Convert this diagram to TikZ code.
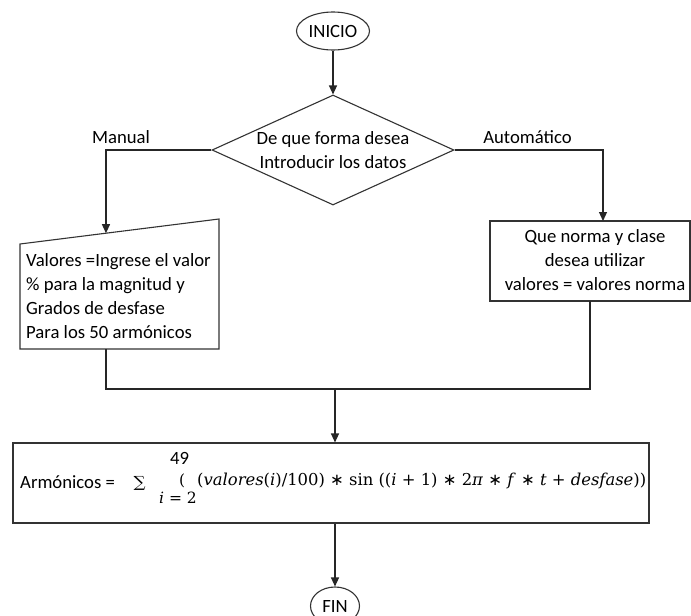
\documentclass[tikz,border=0pt]{standalone}
\usepackage{graphicx}
\usepackage{fontspec}
\setmainfont{Carlito}
\newfontfamily\eqfont{DejaVu Serif}
\newfontfamily\opfont{DejaVu Sans}
\newcommand\eqvar[1]{\textit{#1}}
\newcommand\opstar{{\opfont ∗}}
\usetikzlibrary{shapes.geometric,arrows.meta,calc}

\tikzset{
  every node/.style={font=\fontsize{18.7pt}{24pt}\selectfont, text=black, inner sep=0pt},
  eqtext/.style={font=\eqfont\fontsize{15.5pt}{18pt}\selectfont},
  linestyle/.style={draw=black!85, line width=1.2pt},
  arrowline/.style={linestyle, -{Triangle[length=9pt,width=8pt]}},
  outline/.style={draw=black!80, line width=1.1pt},
  terminal/.style={ellipse, outline},
  decision/.style={diamond, outline, minimum width=242pt, minimum height=110pt},
  procbox/.style={rectangle, outline},
  piece/.style={anchor=base west}
}

\begin{document}
\begin{tikzpicture}[x=1pt, y=-1pt]
\path[use as bounding box, fill=white] (0,0) rectangle (691,616);
\clip (0,0) rectangle (691,616);

% start and decision
\node[terminal, minimum width=73pt, minimum height=38pt] (start) at (333,31) {INICIO};
\node[decision] (ask) at (333,150) {};
\node[align=center] (askText) at (333,150) {De que forma desea\\Introducir los datos};
\node (manualLbl) at (121,137) {Manual};
\node (autoLbl) at (527.5,137) {Automático};

% manual input (slanted top)
\coordinate (lbA) at (20,244);
\coordinate (lbB) at (219,219);
\coordinate (lbC) at (219,349);
\coordinate (lbD) at (20,349);
\draw[outline] (lbA) -- (lbB) -- (lbC) -- (lbD) -- cycle;
\node[align=left, anchor=west] (manualText) at (26,296)
  {Valores =Ingrese el valor\\\% para la magnitud y\\Grados de desfase\\Para los 50 armónicos};

% automatic branch
\node[procbox, minimum width=200pt, minimum height=80pt] (autoBox) at (590,261) {};
\node[align=center] (autoText) at (595,260) {Que norma y clase\\desea utilizar\\valores = valores norma};

% harmonic sum
\node[procbox, minimum width=636pt, minimum height=80pt] (sumBox) at (331,483) {};
\node[piece] (sumLabel) at (20,488) {Armónicos =};
\node (sigma) at (139.5,483.5) {\resizebox*{12pt}{14pt}{\eqfont ∑}};
\node[piece] (upper) at (170,464) {49};
\node[piece, eqtext] (lower) at (159,503) {\eqvar{i} = 2};
\node[piece, eqtext] (openParen) at (179,485) {(};
\node[piece, eqtext] (expr) at (197,485)
  {\resizebox{449pt}{!}{(\eqvar{valores}(\eqvar{i})/100) \opstar{} sin ((\eqvar{i} + 1) \opstar{} 2\eqvar{π} \opstar{} \eqvar{f} \opstar{} \eqvar{t} + \eqvar{desfase}))}};

% end
\node[terminal, minimum width=49pt, minimum height=38pt] (finish) at (335,606) {FIN};

% connectors
\coordinate (manIn) at ($(lbA)!0.432!(lbB)$);
\coordinate (autoIn) at (603,221);
\coordinate (manOut) at (106,349);
\coordinate (autoOut) at (590,301);
\coordinate (merge) at (335,389);

\draw[arrowline] (start) -- (ask);
\draw[arrowline] (ask.west) -| (manIn);
\draw[arrowline] (ask.east) -| (autoIn);
\draw[linestyle] (manOut) -- (manOut |- merge) -- (autoOut |- merge) -- (autoOut);
\draw[arrowline] (merge) -- (merge |- sumBox.north);
\draw[arrowline] (merge |- sumBox.south) -- (finish);
\end{tikzpicture}
\end{document}
